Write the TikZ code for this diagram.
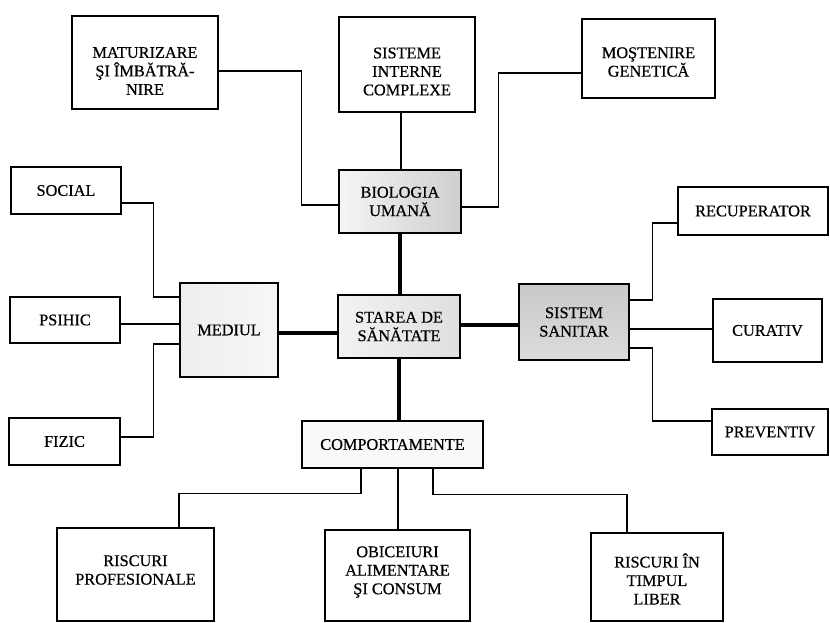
\documentclass[tikz,border=0pt]{standalone}
\usepackage{fontspec}
\setmainfont{Liberation Serif}
\newfontfamily\boxfont[FakeBold=0.6]{Liberation Serif}
\begin{document}
\begin{tikzpicture}[x=1pt,y=-1pt,
  box/.style={draw, line width=1.1pt, inner sep=0pt, align=center,
    font=\boxfont\fontsize{16.3}{18.5}\selectfont},
  mainbox/.style={box, line width=2.2pt},
  txt/.style={inner sep=0pt, align=center, font=\boxfont\fontsize{16.3}{18.5}\selectfont},
  link/.style={line width=1.1pt},
  trunk/.style={line width=3.6pt}
]
\useasboundingbox (0,0) rectangle (830,622);
\fill[white] (0,0) rectangle (830,622);

% central nodes
\node[mainbox, minimum width=122pt, minimum height=63pt, left color=gray!8, right color=gray!38] (bio) at (400,201.5) {BIOLOGIA\\UMANĂ};
\node[mainbox, minimum width=122pt, minimum height=63pt, left color=gray!10, right color=gray!25] (sta) at (399,326.5) {STAREA DE\\SĂNĂTATE};
\node[mainbox, minimum width=98pt, minimum height=94pt, left color=gray!14, right color=gray!6] (med) at (229,330) {MEDIUL};
\node[mainbox, minimum width=110pt, minimum height=76pt, top color=gray!42, bottom color=gray!28] (san) at (574,322) {SISTEM\\SANITAR};
\node[mainbox, minimum width=181pt, minimum height=47pt, fill=gray!5] (com) at (392.5,444.5) {COMPORTAMENTE};

% top row
\node[box, minimum width=146pt, minimum height=93pt] (mat) at (145,62.5) {};
\node[txt] (matT) at (145,71) {MATURIZARE\\ŞI ÎMBĂTRĂ-\\NIRE};
\node[box, minimum width=136pt, minimum height=95pt] (sis) at (407,64.5) {};
\node[txt] (sisT) at (407,71.5) {SISTEME\\INTERNE\\COMPLEXE};
\node[box, minimum width=133pt, minimum height=79pt] (mos) at (648.5,58.5) {};
\node[txt] (mosT) at (648.5,62) {MOŞTENIRE\\GENETICĂ};

% left column
\node[box, minimum width=110pt, minimum height=47pt] (soc) at (66,190.5) {SOCIAL};
\node[box, minimum width=110pt, minimum height=46pt] (psi) at (65,320) {PSIHIC};
\node[box, minimum width=111pt, minimum height=47pt] (fiz) at (64.5,441.5) {FIZIC};

% right column
\node[box, minimum width=150pt, minimum height=48pt] (rec) at (753,211) {RECUPERATOR};
\node[box, minimum width=109pt, minimum height=63pt] (cur) at (767.5,330.5) {CURATIV};
\node[box, minimum width=116pt, minimum height=46pt] (pre) at (770,432) {PREVENTIV};

% bottom row
\node[box, minimum width=157pt, minimum height=93pt] (rp) at (135.5,574.5) {};
\node[txt] (rpT) at (135.5,570) {RISCURI\\PROFESIONALE};
\node[box, minimum width=145pt, minimum height=91pt] (obi) at (397.5,575.5) {};
\node[txt] (obiT) at (397.5,572) {OBICEIURI\\ALIMENTARE\\ŞI CONSUM};
\node[box, minimum width=132pt, minimum height=88pt] (rtl) at (657,577) {};
\node[txt] (rtlT) at (657,579) {RISCURI ÎN\\TIMPUL\\LIBER};

% heavy links around the centre
\draw[trunk] (bio.south) -- (bio.south |- sta.north);
\draw[trunk] ([yshift=-3pt]med.east) -- ([yshift=-3pt]med.east -| sta.west);
\draw[trunk] ([yshift=1.5pt]sta.east) -- ([yshift=1.5pt]sta.east -| san.west);
\draw[trunk] (sta.south) -- (sta.south |- com.north);

% biology branches
\draw[link] ([yshift=-8.5pt]mat.east) -| ([xshift=-36pt,yshift=-3.5pt]bio.west) -- ([yshift=-3.5pt]bio.west);
\draw[link] ([xshift=-6pt]sis.south) -- ([xshift=-6pt]sis.south |- bio.north);
\draw[link] ([yshift=-14.5pt]mos.west) -| ([xshift=36pt,yshift=-5.5pt]bio.east) -- ([yshift=-5.5pt]bio.east);

% environment branches
\draw[link] ([yshift=-12.5pt]soc.east) -| ([xshift=-25pt,yshift=33pt]med.west) -- ([yshift=33pt]med.west);
\draw[link] ([yshift=-4pt]psi.east) -- ([yshift=-4pt]psi.east -| med.west);
\draw[link] ([yshift=4.5pt]fiz.east) -| ([xshift=-25pt,yshift=-14pt]med.west) -- ([yshift=-14pt]med.west);

% health system branches
\draw[link] ([yshift=22pt]san.east) -| ([xshift=-25pt,yshift=-12pt]rec.west) -- ([yshift=-12pt]rec.west);
\draw[link] ([yshift=-7pt]san.east) -- ([yshift=-7pt]san.east -| cur.west);
\draw[link] ([yshift=-26pt]san.east) -| ([xshift=-59pt,yshift=11pt]pre.west) -- ([yshift=11pt]pre.west);

% behaviour branches
\draw[link] ([xshift=-31.5pt]com.south) |- ([xshift=43.5pt,yshift=34pt]rp.north) -- ([xshift=43.5pt]rp.north);
\draw[link] ([xshift=5.5pt]com.south) -- ([xshift=5.5pt]com.south |- obi.north);
\draw[link] ([xshift=40.5pt]com.south) |- ([xshift=-30pt,yshift=38pt]rtl.north) -- ([xshift=-30pt]rtl.north);
\end{tikzpicture}
\end{document}
